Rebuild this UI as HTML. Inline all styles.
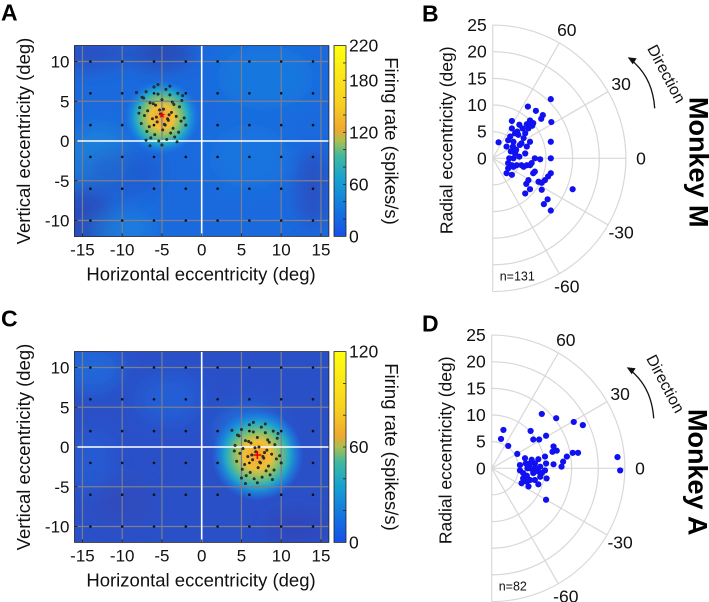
<!DOCTYPE html>
<html><head><meta charset="utf-8"><style>
html,body{margin:0;padding:0;background:#fff;}
svg{display:block;font-family:"Liberation Sans",Arial,sans-serif;}
</style></head><body>
<svg id="fig" width="709" height="602" viewBox="0 0 709 602">
<defs>
<linearGradient id="cbar" x1="0" y1="1" x2="0" y2="0">
<stop offset="0" stop-color="#1650e8"/><stop offset="0.15" stop-color="#1478e0"/>
<stop offset="0.3" stop-color="#15a3cf"/><stop offset="0.42" stop-color="#40b8a0"/>
<stop offset="0.5" stop-color="#a8c050"/><stop offset="0.56" stop-color="#f0a830"/>
<stop offset="0.7" stop-color="#f8d020"/><stop offset="1" stop-color="#ffff10"/>
</linearGradient>
<radialGradient id="hot">
<stop offset="0" stop-color="#f4a030"/><stop offset="0.3" stop-color="#f0c038"/>
<stop offset="0.5" stop-color="#80c070"/><stop offset="0.7" stop-color="#20a8c8"/>
<stop offset="0.88" stop-color="#1a80e0" stop-opacity="0.6"/><stop offset="1" stop-color="#1a70e0" stop-opacity="0"/>
</radialGradient>
<filter id="blur" x="-50%" y="-50%" width="200%" height="200%"><feGaussianBlur stdDeviation="9"/></filter>
<clipPath id="clipA"><rect x="74" y="45" width="255" height="192"/></clipPath>
<clipPath id="clipC"><rect x="74" y="351" width="255" height="192"/></clipPath>
</defs>
</svg>
<script>
// ---- data ----
const gridXs = [-14,-10,-6,-2,2,6,10,14];
const gridYs = [-10,-6,-2,2,6,10];
const hxTicks = [-15,-10,-5,0,5,10,15];
const hyTicks = [-10,-5,0,5,10];
const cbarTicksA = [0,60,120,180,220];
const cbarTicksC = [0,60,120];
const hotA = [-5, 3];
const hotC = [7, -1];
const cloudDx = [-2.5,-2,-1.5,-1,-0.5,0,0.5,1,1.5,2,2.5,-2.8,-1.8,-0.8,0.2,1.2,2.2,-2.2,-1.2,-0.2,0.8,1.8,2.8,-2.6,-1.6,-0.6,0.4,1.4,2.4,-1.9,-0.9,0.1,1.1,2.1,-1.4,-0.4,0.6,1.6,-2.9,3,-0.7,0.9,-1.1,1.3,-0.3,0.3,-3.2,-2.3,1.9,0,-1.5,1,-0.5,2.6,-2,0.7];
const cloudDy = [2.5,3.2,1.8,3.8,2.9,2.2,3.5,2.8,1.6,3,2.1,1.2,0.8,1.5,1,0.6,1.3,0.2,-0.2,0.4,-0.4,0.1,-0.1,-0.8,-1.2,-0.6,-1,-1.4,-0.5,-1.8,-2.2,-1.6,-2,-1.9,-2.6,-3,-2.8,-2.5,0.5,-1,0,0.3,1.7,1.9,0.9,-0.9,3.1,2.4,-3.1,-3.5,-3.6,3.9,4.1,2.7,-2.9,-0.2];
const bX = [10.9,6.6,8.1,9.4,9.1,3.6,11.0,7.0,6.4,5.0,7.4,3.6,5.6,4.6,6.1,1.1,3.3,2.9,3.9,5.8,7.0,10.9,2.6,3.8,5.1,6.4,3.4,4.2,6.1,3.9,3.1,7.9,8.9,10.9,2.9,3.6,4.5,5.4,6.4,7.0,7.3,2.9,3.9,5.8,7.9,2.6,3.6,10.9,10.4,9.8,8.6,9.2,6.7,6.3,7.6,7.0,6.1,9.2,15.0,10.3,9.6,10.9,4.2,4.8,5.4,6.7,7.6,4.4,5.0];
const bY = [11.1,9.7,8.9,8.1,7.4,7.0,6.8,7.1,6.4,6.3,6.1,5.6,5.6,5.0,4.7,3.0,4.1,3.4,3.1,3.8,3.1,3.1,2.2,2.2,2.5,2.2,1.3,0.9,0.9,0,0,0,-0.2,0,-0.9,-1.3,-1.3,-1.3,-1.3,-1.3,-0.9,-1.9,-1.6,-1.6,-2.5,-2.8,-3.1,-2.8,-3.4,-4.1,-4.4,-4.6,-4.1,-4.8,-2.8,-5.8,-6.6,-5.9,-5.8,-7.7,-8.6,-9.8,4.7,4.4,2.8,5.6,6.6,1.6,0.3];
const dX = [2.2,1.75,3.1,4.8,7.3,7.8,8.9,9.4,10.2,12.1,15.4,17.1,11.6,11.4,12.2,14.1,15.2,16.2,13.4,13.1,11.6,6.25,6.4,5.3,7.5,8.1,8.75,10.0,10.2,7.2,8.1,9.1,10.0,5.3,5.9,6.6,7.8,8.75,9.4,5.9,6.6,7.2,8.1,5.6,8.75,10.3,10.2,23.6,24.1,6.9,7.8,6.7,9.1,7.2];
const dY = [7.2,5.5,4.2,2.7,7.0,5.4,5.4,10.2,6.1,9.4,8.7,8.1,4.1,3.1,3.3,2.2,2.9,2.9,1.25,0.3,0.75,1.9,0.9,0.6,1.6,0.9,1.7,2.2,0.9,0,0,0.3,-0.4,-0.4,-0.9,-1.4,-0.9,-0.6,-0.9,-1.9,-2.5,-2.2,-2.2,-2.8,-3.0,-1.9,-5.9,2.1,-0.4,-3.4,-0.6,0,-1.6,0.9];
const rTicks = [0,5,10,15,20,25];
const angTicks = [-60,-30,0,30,60];

const NS='http://www.w3.org/2000/svg';
const svg=document.getElementById('fig');
function mk(tag,attrs,parent,txt){const e=document.createElementNS(NS,tag);for(const k in attrs)e.setAttribute(k,attrs[k]);if(txt!==undefined)e.textContent=txt;(parent||svg).appendChild(e);return e;}

function heatmap(id,y0,hot,base,blobs,cticks,cmax,letter,hotR,marker){
  const g=mk('g',{});
  
  
  const hx=v=>201.7+v*7.95, hy=v=>y0-v*7.95;
  const top=hy(12), bot=hy(-12), L=hx(-16), R=hx(16);
  const pl=mk('g',{'clip-path':'url(#clip'+id+')'},g);
  const bg=mk('rect',{x:L,y:top,width:R-L,height:bot-top,fill:base},pl);
  
  
  const bl=mk('g',{filter:'url(#blur)'},pl);
  blobs.forEach(b=>mk('ellipse',{cx:hx(b[0]),cy:hy(b[1]),rx:b[2]*7.95,ry:b[3]*7.95,fill:b[4],opacity:b[5]},bl));
  const h=mk('circle',{cx:hx(hot[0]),cy:hy(hot[1]),r:hotR,fill:'url(#hot)'},pl);
  
  
  [-15,-10,-5,5,10,15].forEach(v=>mk('line',{x1:hx(v),x2:hx(v),y1:top,y2:bot,stroke:'#7a7f90','stroke-width':1.2},pl));
  [-10,-5,5,10].forEach(v=>mk('line',{x1:L,x2:R,y1:hy(v),y2:hy(v),stroke:'#7a7f90','stroke-width':1.2},pl));
  mk('line',{x1:hx(0),x2:hx(0),y1:top,y2:bot,stroke:'#fff','stroke-width':1.6},pl);
  mk('line',{x1:L,x2:R,y1:hy(0),y2:hy(0),stroke:'#fff','stroke-width':1.6},pl);
  gridXs.forEach(x=>gridYs.forEach(y=>{const d=mk('circle',{cx:hx(x),cy:hy(y),r:1.3,fill:'#111'},pl);
    
    }));
  cloudDx.forEach((dx,i)=>{const d=mk('circle',{cx:hx(hot[0]+dx),cy:hy(hot[1]+cloudDy[i]),r:1.3,fill:'#333',stroke:'#111','stroke-width':0.4},pl);
    
    });
  if(marker==='star'){mk('text',{x:hx(hot[0]),y:hy(hot[1])+5,'text-anchor':'middle','font-size':14,fill:'#e00000','font-weight':'bold'},pl,'*');}
  else{mk('path',{d:`M${hx(hot[0])-4},${hy(hot[1])}h8M${hx(hot[0])},${hy(hot[1])-4}v8`,stroke:'#e00000','stroke-width':1.5},pl);}
  mk('rect',{x:L,y:top,width:R-L,height:bot-top,fill:'none',stroke:'#222','stroke-width':0.8},g);
  hxTicks.forEach(v=>{mk('line',{x1:hx(v),x2:hx(v),y1:bot,y2:bot-3,stroke:'#222'},g);
    const t=mk('text',{x:hx(v),y:bot+19,'text-anchor':'middle','font-size':17,fill:'#111'},g,String(v));
    
    });
  hyTicks.forEach(v=>{mk('line',{x1:L,x2:L+3,y1:hy(v),y2:hy(v),stroke:'#222'},g);
    const t=mk('text',{x:L-5,y:hy(v)+6,'text-anchor':'end','font-size':17,fill:'#111'},g,String(v));
    
    });
  const xt=mk('text',{x:201,y:bot+44,'text-anchor':'middle','font-size':18.5,fill:'#111'},g,'Horizontal eccentricity (deg)');
  
  
  const yt=mk('text',{x:0,y:0,'text-anchor':'middle','font-size':18.5,fill:'#111',transform:`translate(30,${(top+bot)/2}) rotate(-90)`},g,'Vertical eccentricity (deg)');
  
  
  const cb=mk('rect',{x:334,y:top,width:12,height:bot-top,fill:'url(#cbar)',stroke:'#222','stroke-width':0.8},g);
  
  
  const cy=v=>bot-v/cmax*(bot-top);
  for(let v=20;v<cmax;v+=20) mk('line',{x1:343,x2:346,y1:cy(v),y2:cy(v),stroke:'#222','stroke-width':0.8},g);
  cticks.forEach(v=>{const t=mk('text',{x:349,y:cy(v)+6,'font-size':17.5,fill:'#111'},g,String(v));
    
    });
  const ct=mk('text',{x:0,y:0,'text-anchor':'middle','font-size':18.5,fill:'#111',transform:`translate(385,${(top+bot)/2}) rotate(90)`},g,'Firing rate (spikes/s)');
  
  
  const lt=mk('text',{x:1,y:top-25,'font-size':23,'font-weight':'bold',fill:'#000'},g,letter);
  
  
}

heatmap('A',141,hotA,'#1a6ade',[[-15,-10,4,4,'#3040b0',0.7],[-14,11,5,2,'#3040b0',0.6],[-5,11,4,2,'#3040a8',0.7],[8,8,6,4,'#1880e0',0.6],[-13,-2,4,4,'#1a90d8',0.6],[-10,-11,4,2,'#1a8ade',0.6],[14,-6,2,5,'#3040b0',0.6],[-10,-4,5,3,'#2050c8',0.5],[6,-2,5,4,'#1a80e0',0.5]],cbarTicksA,220,'A',38,'star');
heatmap('C',447,hotC,'#2a50c8',[[-14,10,4,3,'#1a70e0',0.7],[-4,6,4,3,'#1e68e0',0.6],[-14,-2,3,4,'#1e64dc',0.5],[12,-10,4,2,'#3040b0',0.6],[-10,-7,4,3,'#3048b8',0.6],[6,2,4,3,'#1a80e0',0.7]],cbarTicksC,120,'C',46,'plus');

function polar(cx,cy,xs,ys,letter,ntext,monkey){
  const g=mk('g',{});
  
  
  const k=5.33, R=25*k;
  const px=x=>cx+x*k, py=y=>cy-y*k;
  [5,10,15,20,25].forEach(r=>{mk('path',{d:`M${cx},${cy-r*k} A${r*k},${r*k} 0 0 1 ${cx},${cy+r*k}`,fill:'none',stroke:'#d8d8d8','stroke-width':1.2},g);});
  [-60,-30,0,30,60].forEach(a=>{const t=a*Math.PI/180;mk('line',{x1:cx,y1:cy,x2:cx+R*Math.cos(t),y2:cy-R*Math.sin(t),stroke:'#d8d8d8','stroke-width':1.2},g);});
  mk('line',{x1:cx,y1:cy-R,x2:cx,y2:cy+R,stroke:'#d8d8d8','stroke-width':1.2},g);
  rTicks.forEach(r=>{const t=mk('text',{x:cx-6,y:cy-r*k+6,'text-anchor':'end','font-size':17.5,fill:'#111'},g,String(r));
    
    });
  angTicks.forEach(a=>{const t=a*Math.PI/180;const lx=cx+(R+15)*Math.cos(t), ly=cy-(R+15)*Math.sin(t);
    const e=mk('text',{x:lx,y:ly+6,'text-anchor':'middle','font-size':17.5,fill:'#111'},g,String(a));
    
    });
  xs.forEach((x,i)=>{const d=mk('circle',{cx:px(x),cy:py(ys[i]),r:3.1,fill:'#1010f0'},g);
    
    });
  const yt=mk('text',{x:0,y:0,'text-anchor':'middle','font-size':17.5,fill:'#111',transform:`translate(${cx-40},${cy-18}) rotate(-90)`},g,'Radial eccentricity (deg)');
  
  
  const n=mk('text',{x:cx+7,y:cy+122,'font-size':12.5,fill:'#111'},g,ntext);
  
  
  const dg=mk('g',{},g);
  
  
  mk('path',{d:`M${cx+162},${cy-50} Q${cx+160},${cy-80} ${cx+140},${cy-97}`,fill:'none',stroke:'#111','stroke-width':1.3},dg);
  mk('path',{d:`M${cx+135},${cy-101} l9,1 l-4,6 z`,fill:'#111'},dg);
  mk('text',{x:0,y:0,'text-anchor':'middle','font-size':16,fill:'#111',transform:`translate(${cx+169},${cy-82}) rotate(62)`},dg,'Direction');
  const m=mk('text',{x:0,y:0,'text-anchor':'middle','font-size':27,'font-weight':'bold',fill:'#000',transform:`translate(${cx+197},${cy+4}) rotate(90)`},g,monkey);
  
  
  const lt=mk('text',{x:422,y:cy-137,'font-size':23,'font-weight':'bold',fill:'#000'},g,letter);
  
  
}
polar(492.7,158.3,bX,bY,'B','n=131','Monkey M');
polar(491.7,468.3,dX,dY,'D','n=82','Monkey A');
</script>
</body></html>
